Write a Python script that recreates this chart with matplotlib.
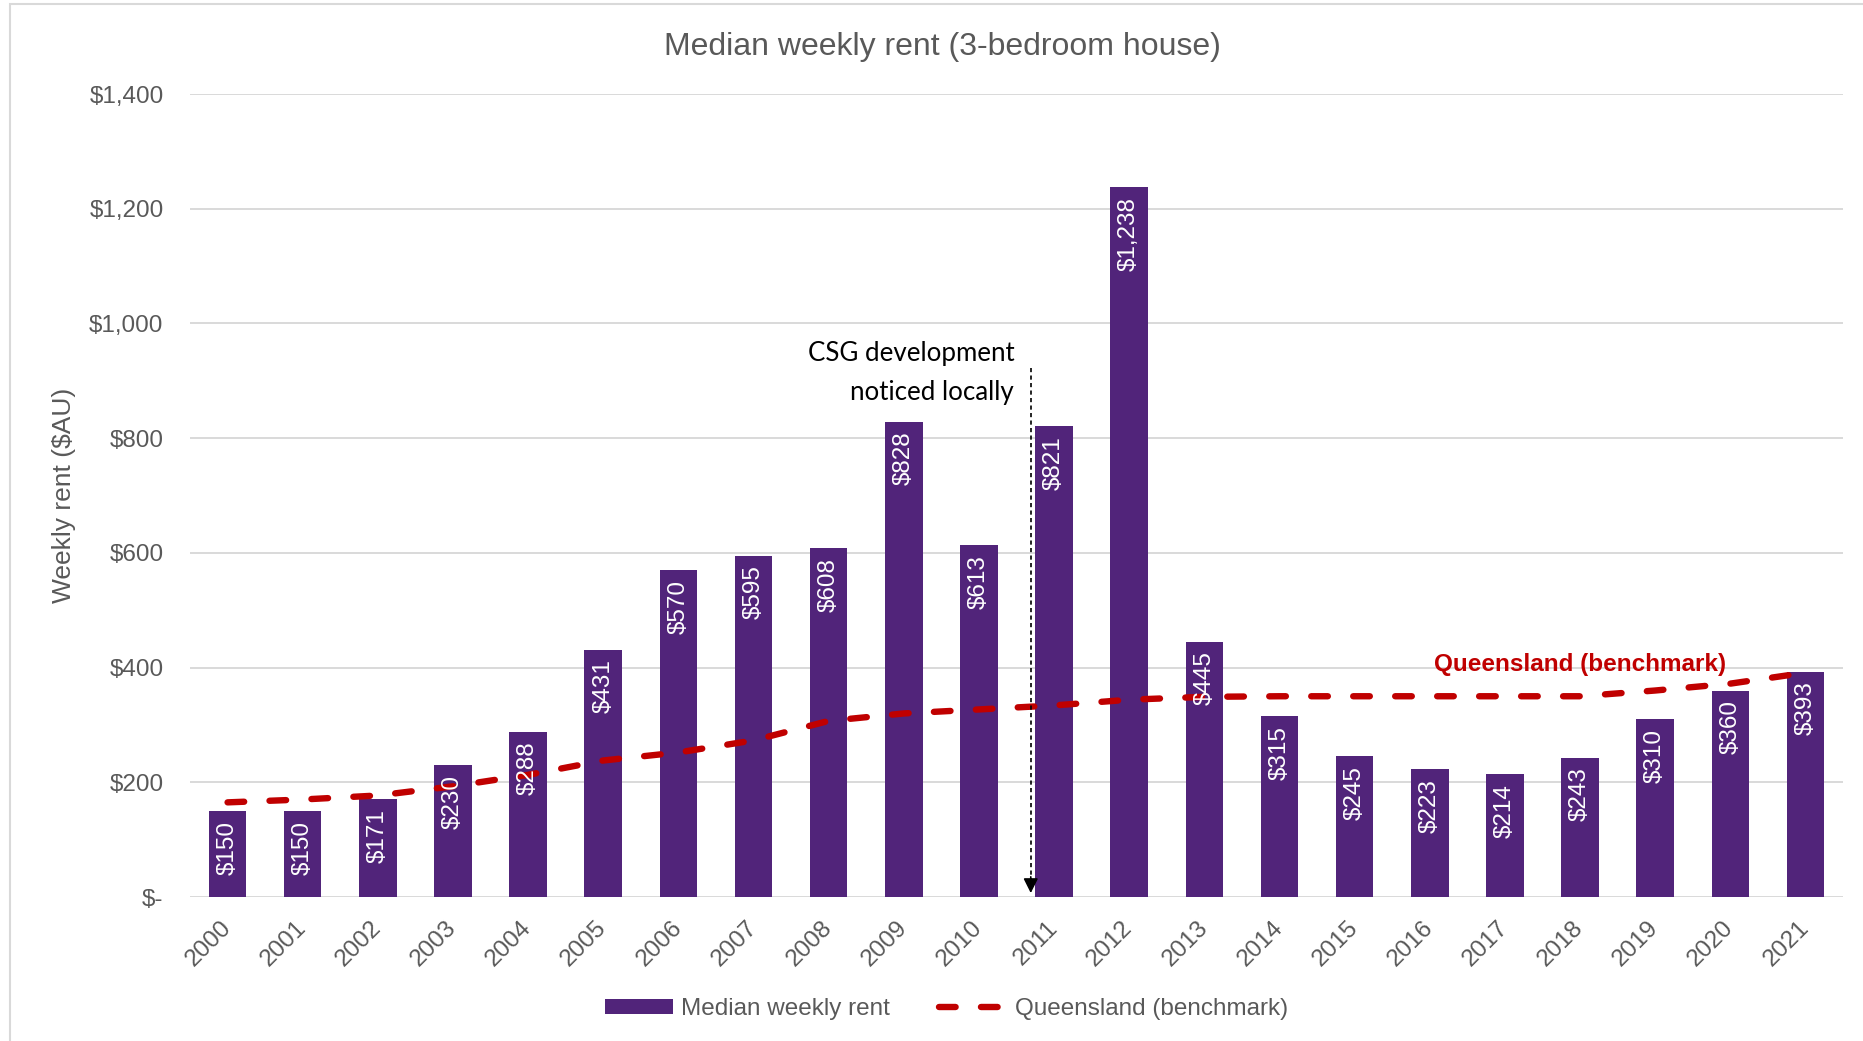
import matplotlib
matplotlib.use("Agg")
import matplotlib.pyplot as plt
from matplotlib.patches import Patch, Rectangle
from matplotlib.lines import Line2D
import numpy as np

# data
years = [str(y) for y in range(2000, 2022)]
median_rent = [150, 150, 171, 230, 288, 431, 570, 595, 608, 828, 613,
               821, 1238, 445, 315, 245, 223, 214, 243, 310, 360, 393]
qld_benchmark = [165, 170, 177, 193, 213, 238, 252, 273, 307, 320, 327,
                 334, 344, 349, 350, 350, 350, 350, 350, 360, 372, 391]
y_ticks = [0, 200, 400, 600, 800, 1000, 1200, 1400]
y_tick_labels = ["$-", "$200", "$400", "$600", "$800", "$1,000", "$1,200", "$1,400"]

PURPLE = "#51247A"
RED = "#C00000"
GREY = "#595959"
GRID = "#D9D9D9"
QLD_LW = 4.6
QLD_DASH = (2.6, 3.97)

plt.rcParams["font.family"] = ["Liberation Sans", "DejaVu Sans"]

fig = plt.figure(figsize=(18.63, 10.41), dpi=100)
ax = fig.add_axes([190 / 1863, 1 - 897 / 1041, 1653 / 1863, 803 / 1041])

x = np.arange(len(years))
ax.bar(x, median_rent, width=0.5, color=PURPLE, zorder=2,
       label="Median weekly rent")
ax.plot(x, qld_benchmark, color=RED, lw=QLD_LW, dashes=QLD_DASH,
        dash_capstyle="round", zorder=3, label="Queensland (benchmark)")

# value labels inside the top of each bar
for xi, v in zip(x, median_rent):
    ax.annotate(f"${v:,}", xy=(xi, v), xytext=(0, -7), textcoords="offset points",
                rotation=90, ha="center", va="top", color="white", fontsize=17.5,
                zorder=4)

ax.set_xlim(-0.5, len(years) - 0.5)
ax.set_ylim(0, 1400)
ax.set_yticks(y_ticks)
ax.set_yticklabels(y_tick_labels)
ax.set_xticks(x)
ax.set_xticklabels(years, rotation=45, ha="right", va="center",
                   rotation_mode="anchor")
ax.tick_params(axis="both", length=0, colors=GREY, labelsize=17.5)
ax.tick_params(axis="y", pad=19)
ax.tick_params(axis="x", pad=20)
ax.grid(axis="y", color=GRID, lw=1.4, zorder=0)
for s in ax.spines.values():
    s.set_visible(False)

ax.set_ylabel("Weekly rent ($AU)", fontsize=19, color=GREY)
ax.yaxis.set_label_coords(-0.0765, 0.5)
ax.yaxis.label.set_verticalalignment("center")

# CSG annotation
arrow_x = 10.69
ax.plot([arrow_x, arrow_x], [923, 25], color="black", lw=1.2,
        dashes=(2.5, 2), zorder=5)
ax.annotate("", xy=(arrow_x, 2), xytext=(arrow_x, 40),
            arrowprops=dict(arrowstyle="-|>", color="black", lw=1.2,
                            mutation_scale=22), zorder=5)
ax.text(10.47, 948, "CSG development", ha="right", va="center",
        fontsize=18.6, color="black", family=["Lato", "DejaVu Sans"])
ax.text(10.47, 880, "noticed locally", ha="right", va="center",
        fontsize=18.6, color="black", family=["Lato", "DejaVu Sans"])

ax.text(18, 405, "Queensland (benchmark)", ha="center", va="center",
        fontsize=17.5, color=RED, fontweight="bold", zorder=5)

fig.text(942 / 1863, 1 - 47 / 1041, "Median weekly rent (3-bedroom house)",
         ha="center", va="center", fontsize=23, color=GREY)

handles = [Patch(facecolor=PURPLE, label="Median weekly rent"),
           Line2D([], [], color=RED, lw=QLD_LW, dashes=QLD_DASH,
                  dash_capstyle="round", label="Queensland (benchmark)")]
fig.legend(handles=handles, loc="center", bbox_to_anchor=(0.508, 1 - 1009 / 1041),
           ncol=2, frameon=False, fontsize=17.5, labelcolor=GREY,
           handlelength=2.8, handleheight=0.55, handletextpad=0.35,
           columnspacing=2.0)

# chart border
fig.patches.append(Rectangle((10 / 1863, -0.01), 1.2, 1 - 4 / 1041 + 0.01,
                             transform=fig.transFigure, fill=False,
                             edgecolor=GRID, lw=1.5))

fig.savefig("out.png", dpi=100, facecolor="white")
